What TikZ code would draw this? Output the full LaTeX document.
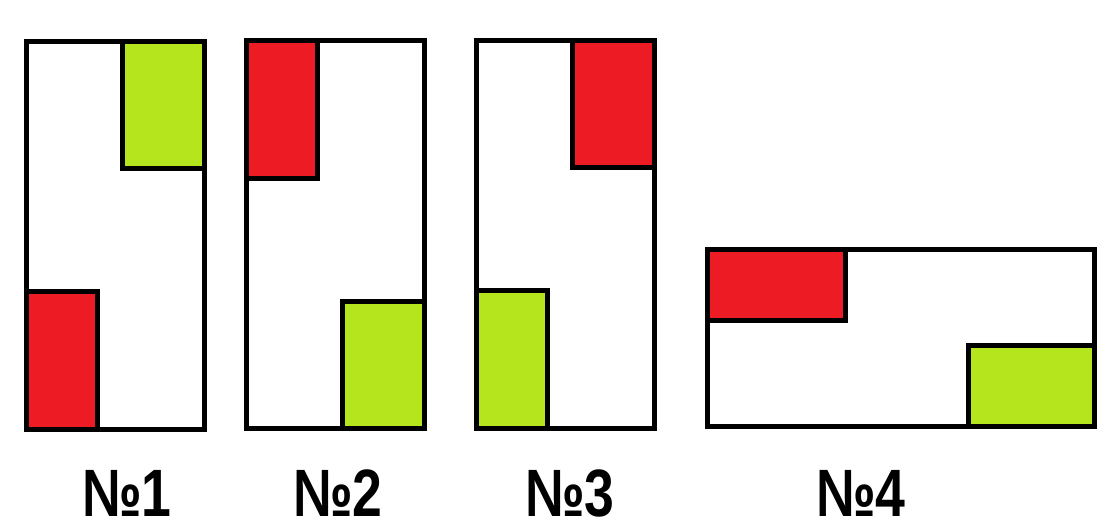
\documentclass[tikz,border=0pt]{standalone}
\usepackage{fontspec}
\setmainfont{Liberation Sans}
\definecolor{pred}{HTML}{ED1C24}
\definecolor{pgreen}{HTML}{B5E61D}
\begin{document}
\begin{tikzpicture}[x=1pt,y=-1pt,
  frame/.style={draw=black,line width=5pt,fill=white},
  redbox/.style={draw=black,line width=5pt,fill=pred},
  greenbox/.style={draw=black,line width=5pt,fill=pgreen},
  lbl/.style={font=\fontsize{67}{67}\selectfont\bfseries,xscale=0.8,inner sep=0pt,anchor=base}]
\useasboundingbox[fill=white] (0,0) rectangle (1118,531);
% No1
\draw[frame] (26.5,41.5) rectangle (204.5,429.5);
\draw[greenbox] (122.5,41.5) rectangle (204.5,168.5);
\draw[redbox] (26.5,291.5) rectangle (97.5,429.5);
% No2
\draw[frame] (246.5,40.5) rectangle (424.5,428.5);
\draw[redbox] (246.5,40.5) rectangle (317.5,178.5);
\draw[greenbox] (342.5,301.5) rectangle (424.5,428.5);
% No3
\draw[frame] (476.5,40.5) rectangle (654.5,428.5);
\draw[redbox] (572.5,40.5) rectangle (654.5,167.5);
\draw[greenbox] (476.5,290.5) rectangle (547.5,428.5);
% No4
\draw[frame] (707.5,249.5) rectangle (1094.5,426.5);
\draw[redbox] (707.5,249.5) rectangle (845.5,320.5);
\draw[greenbox] (968.5,345.5) rectangle (1094.5,426.5);
% labels
\node[lbl] (l1) at (127,516) {№1};
\node[lbl] (l2) at (338,516) {№2};
\node[lbl] (l3) at (570,516) {№3};
\node[lbl] (l4) at (861,516) {№4};
\end{tikzpicture}
\end{document}
